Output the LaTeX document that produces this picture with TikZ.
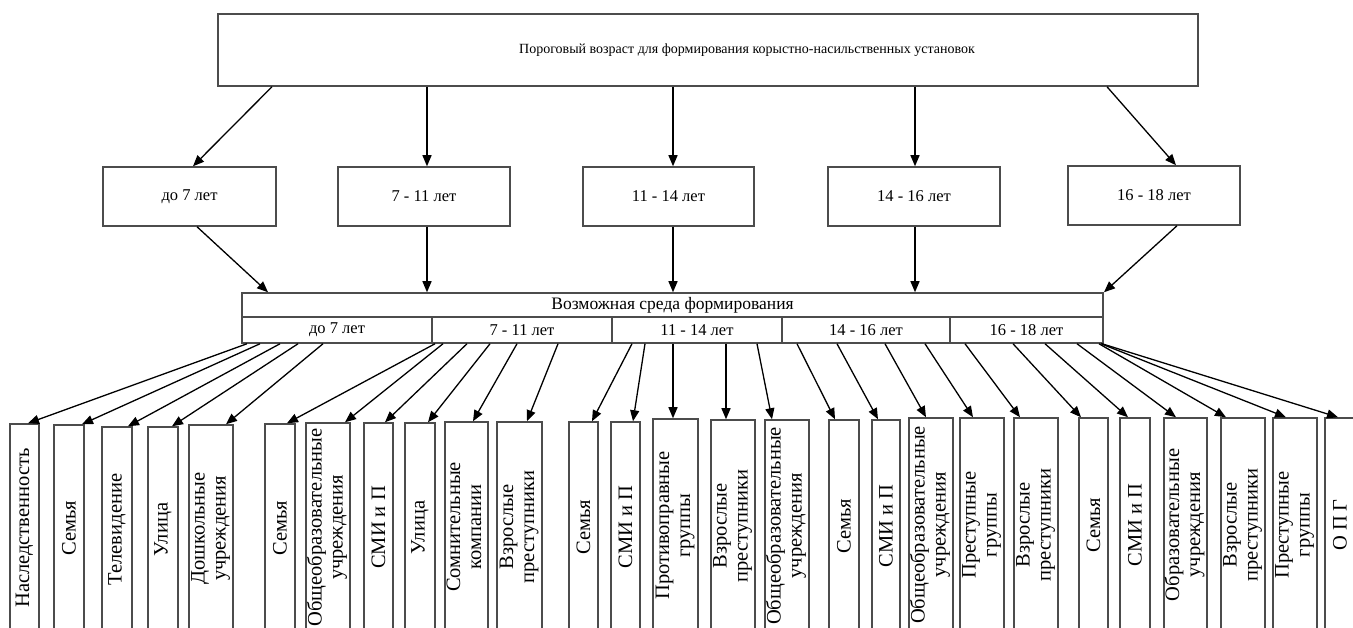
\documentclass[tikz,border=0pt]{standalone}
\usepackage{fontspec}
\setmainfont{Liberation Serif}
\usetikzlibrary{arrows.meta}
\tikzset{
  box/.style={draw=black!70, line width=1.5pt, inner sep=0pt, fill=white},
  tbox/.style={box, minimum width=980, minimum height=72, font=\fontsize{14}{17}\selectfont},
  mbox/.style={box, minimum height=59, font=\fontsize{16.5}{19}\selectfont},
  hbox/.style={box, minimum height=24, font=\fontsize{17.5}{20}\selectfont},
  cbox/.style={box, minimum height=26, font=\fontsize{16.5}{19}\selectfont},
  bbox/.style={box, font=\fontsize{20.5}{21}\selectfont},
  arr/.style={-{Triangle[length=11pt,width=9pt]}, line width=1.3pt, black},
}
\newcommand\bottombox[5]{\node[bbox, minimum width=#3, minimum height={632-#4}] (#1) at (#2,{(#4+632)/2}) {\rotatebox{90}{#5}};}
\newcommand\twoline[2]{\begin{tabular}{@{}c@{}}#1\\#2\end{tabular}}
\newcommand\link[4]{\draw[arr] (#2,0 |- #1.south) -- (#4,0 |- #3.north);}
\begin{document}
\begin{tikzpicture}[x=1pt,y=-1pt]
\useasboundingbox (0,0) rectangle (1353,628);
\clip (0,0) rectangle (1353,628);
\fill[white] (0,0) rectangle (1353,628);
% top
\node[tbox] (top) at (708,50) {\hspace*{78pt}Пороговый возраст для формирования корыстно-насильственных установок};
% middle
\node[mbox, minimum width=173] (m1) at (189.5,196.5) {до 7 лет};
\node[mbox, minimum width=172] (m2) at (424,196.5) {7 - 11 лет};
\node[mbox, minimum width=171] (m3) at (668.5,196.5) {11 - 14 лет};
\node[mbox, minimum width=172] (m4) at (914,196.5) {14 - 16 лет};
\node[mbox, minimum width=172] (m5) at (1154,195.5) {16 - 18 лет};
% environment
\node[hbox, minimum width=861] (hdr) at (672.5,305) {Возможная среда формирования};
\node[cbox, minimum width=190] (c1) at (337,330) {до 7 лет};
\node[cbox, minimum width=180] (c2) at (522,330) {7 - 11 лет};
\node[cbox, minimum width=170] (c3) at (697,330) {11 - 14 лет};
\node[cbox, minimum width=168] (c4) at (866,330) {14 - 16 лет};
\node[cbox, minimum width=153] (c5) at (1026.5,330) {16 - 18 лет};
% top arrows
\link{top}{272}{m1}{193}
\link{top}{427}{m2}{427}
\link{top}{673}{m3}{673}
\link{top}{915}{m4}{915}
\link{top}{1107}{m5}{1176}
\link{m1}{197}{hdr}{268}
\link{m2}{427}{hdr}{427}
\link{m3}{673}{hdr}{673}
\link{m4}{915}{hdr}{915}
\link{m5}{1177}{hdr}{1104}
% bottom boxes
\bottombox{b1}{24.5}{29}{424}{Наследственность}
\bottombox{b2}{69}{30}{425}{Семья}
\bottombox{b3}{117}{30}{427}{Телевидение}
\bottombox{b4}{163}{30}{427}{Улица}
\bottombox{b5}{211}{44}{425}{\twoline{Дошкольные}{учреждения}}
\bottombox{b6}{280}{30}{424}{Семья}
\bottombox{b7}{328}{44}{423}{\twoline{Общеобразовательные}{учреждения}}
\bottombox{b8}{378.5}{29}{423}{СМИ и П}
\bottombox{b9}{420}{30}{423}{Улица}
\bottombox{b10}{466.5}{43}{422}{\twoline{Сомнительные}{компании}}
\bottombox{b11}{519.5}{45}{422}{\twoline{Взрослые}{преступники}}
\bottombox{b12}{583.5}{29}{422}{Семья}
\bottombox{b13}{625.5}{29}{422}{СМИ и П}
\bottombox{b14}{675.5}{45}{419}{\twoline{Противоправные}{группы}}
\bottombox{b15}{733}{44}{420}{\twoline{Взрослые}{преступники}}
\bottombox{b16}{787}{44}{420}{\twoline{Общеобразовательные}{учреждения}}
\bottombox{b17}{844}{30}{420}{Семья}
\bottombox{b18}{886}{28}{420}{СМИ и П}
\bottombox{b19}{931}{44}{418}{\twoline{Общеобразовательные}{учреждения}}
\bottombox{b20}{982}{44}{418}{\twoline{Преступные}{группы}}
\bottombox{b21}{1036}{44}{418}{\twoline{Взрослые}{преступники}}
\bottombox{b22}{1093.5}{29}{418}{Семья}
\bottombox{b23}{1135}{30}{418}{СМИ и П}
\bottombox{b24}{1185.5}{43}{418}{\twoline{Образовательные}{учреждения}}
\bottombox{b25}{1243}{44}{418}{\twoline{Взрослые}{преступники}}
\bottombox{b26}{1295}{44}{418}{\twoline{Преступные}{группы}}
\bottombox{b27}{1340}{30}{418}{О П Г}
% bottom arrows
\link{c1}{247}{b1}{28}
\link{c1}{260}{b2}{82}
\link{c1}{280}{b3}{128}
\link{c1}{298}{b4}{172}
\link{c1}{323}{b5}{226}
\link{c2}{435}{b6}{287}
\link{c2}{443}{b7}{345}
\link{c2}{467}{b8}{385}
\link{c2}{490}{b9}{428}
\link{c2}{517}{b10}{473}
\link{c2}{558}{b11}{527}
\link{c3}{632}{b12}{592}
\link{c3}{645}{b13}{633}
\link{c3}{673}{b14}{673}
\link{c3}{726}{b15}{726}
\link{c3}{757}{b16}{772}
\link{c4}{797}{b17}{835}
\link{c4}{837}{b18}{878}
\link{c4}{885}{b19}{926}
\link{c4}{925}{b20}{973}
\link{c5}{965}{b21}{1020}
\link{c5}{1013}{b22}{1081}
\link{c5}{1045}{b23}{1128}
\link{c5}{1077}{b24}{1176}
\link{c5}{1099}{b25}{1226}
\link{c5}{1101}{b26}{1286}
\link{c5}{1102}{b27}{1338}
\end{tikzpicture}
\end{document}
